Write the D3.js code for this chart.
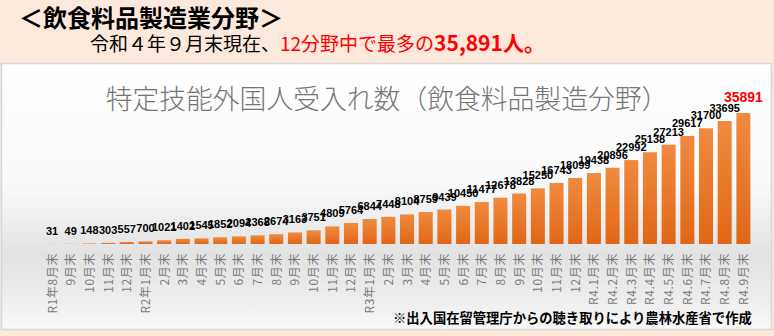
<!DOCTYPE html>
<html><head><meta charset="utf-8">
<script src="https://cdn.jsdelivr.net/npm/d3@7"></script>
<style>
html,body{margin:0;padding:0;background:#fff;}
svg{display:block;}
</style></head>
<body>
<div id="chart"></div>
<script>
const categories = ["R1年8月末","9月末","10月末","11月末","12月末",
  "R2年1月末","2月末","3月末","4月末","5月末","6月末","7月末","8月末","9月末","10月末","11月末","12月末",
  "R3年1月末","2月末","3月末","4月末","5月末","6月末","7月末","8月末","9月末","10月末","11月末","12月末",
  "R4.1月末","R4.2月末","R4.3月末","R4.4月末","R4.5月末","R4.6月末","R4.7月末","R4.8月末","R4.9月末"];
const values = [31,49,148,303,557,700,1021,1402,1545,1852,2094,2368,2674,3163,3751,4809,5764,
  6844,7448,8104,8759,9439,10450,11477,12678,13828,15250,16743,18099,
  19438,20896,22992,25138,27213,29617,31700,33695,35891];
const yMax = 40000;
const headerTitle = "＜飲食料品製造業分野＞";
const subBlack = "令和４年９月末現在、";
const subRed = "12分野中で最多の";
const subRedBold = "35,891人。";
const chartTitle = "特定技能外国人受入れ数（飲食料品製造分野）";
const footnote = "※出入国在留管理庁からの聴き取りにより農林水産省で作成";

const W = 774, H = 336;
const jp = "'Noto Sans CJK JP', 'Noto Sans', sans-serif";
const svg = d3.select("#chart").append("svg").attr("width", W).attr("height", H);
const defs = svg.append("defs");
const bg = defs.append("linearGradient").attr("id","bg").attr("x1",0).attr("y1",0).attr("x2",0).attr("y2",1);
[[0,"#ffffff"],[0.45,"#fafafa"],[0.72,"#e2e2e2"],[0.88,"#ededed"],[1,"#f8f8f8"]].forEach(s=>bg.append("stop").attr("offset",s[0]).attr("stop-color",s[1]));
const bar = defs.append("linearGradient").attr("id","bar").attr("x1",0).attr("y1",0).attr("x2",0).attr("y2",1);
[[0,"#f08b3f"],[1,"#e06616"]].forEach(s=>bar.append("stop").attr("offset",s[0]).attr("stop-color",s[1]));

svg.append("rect").attr("x",0).attr("y",0).attr("width",W).attr("height",H).attr("fill","#fde9dc");
svg.append("rect").attr("x",1.5).attr("y",63.5).attr("width",W-4).attr("height",266)
  .attr("fill","url(#bg)").attr("stroke","#d6d6d6").attr("stroke-width",1.5);

svg.append("text").attr("x",19).attr("y",27).attr("font-family",jp).attr("font-weight","bold")
  .attr("font-size",24).attr("fill","#000").text(headerTitle);
const sub = svg.append("text").attr("x",90).attr("y",51).attr("font-family",jp).attr("font-size",19);
sub.append("tspan").attr("fill","#000").text(subBlack);
sub.append("tspan").attr("fill","#ff0000").text(subRed);
sub.append("tspan").attr("fill","#ff0000").attr("font-weight","bold").attr("font-size",21).text(subRedBold);

svg.append("text").attr("x",387).attr("y",109).attr("text-anchor","middle").attr("font-family",jp)
  .attr("font-weight",300).attr("font-size",26.8).attr("fill","#757575").text(chartTitle);

const x = d3.scaleBand().domain(d3.range(categories.length)).range([42.7, 752.7])
  .paddingInner(0.25).paddingOuter(0.125);
const y = d3.scaleLinear().domain([0, yMax]).range([244, 98]);

svg.append("g").selectAll("rect").data(values).join("rect")
  .attr("x",(d,i)=>x(i)).attr("width",x.bandwidth())
  .attr("y",d=>y(d)).attr("height",d=>y(0)-y(d)).attr("fill","url(#bar)");

const last = values.length-1;
svg.append("g").selectAll("text").data(values).join("text")
  .attr("x",(d,i)=>x(i)+x.bandwidth()/2)
  .attr("y",(d,i)=>y(d)-(i===last?11:9))
  .attr("text-anchor","middle")
  .attr("font-family","'Liberation Sans', Arial, sans-serif").attr("font-weight","bold")
  .attr("font-size",(d,i)=>i===last?14:11)
  .attr("fill",(d,i)=>i===last?"#ff0000":"#000")
  .text(d=>d);

svg.append("g").selectAll("text").data(categories).join("text")
  .attr("transform",(d,i)=>`translate(${x(i)+x.bandwidth()/2+4.5},253) rotate(-90)`)
  .attr("text-anchor","end").attr("font-family",jp).attr("font-size",12)
  .attr("letter-spacing",0.6).attr("fill","#7a7a7a")
  .text(d=>d);

svg.append("text").attr("x",393).attr("y",323).attr("font-family",jp).attr("font-weight","bold")
  .attr("font-size",13.3).attr("fill","#000").text(footnote);
</script>
</body></html>
